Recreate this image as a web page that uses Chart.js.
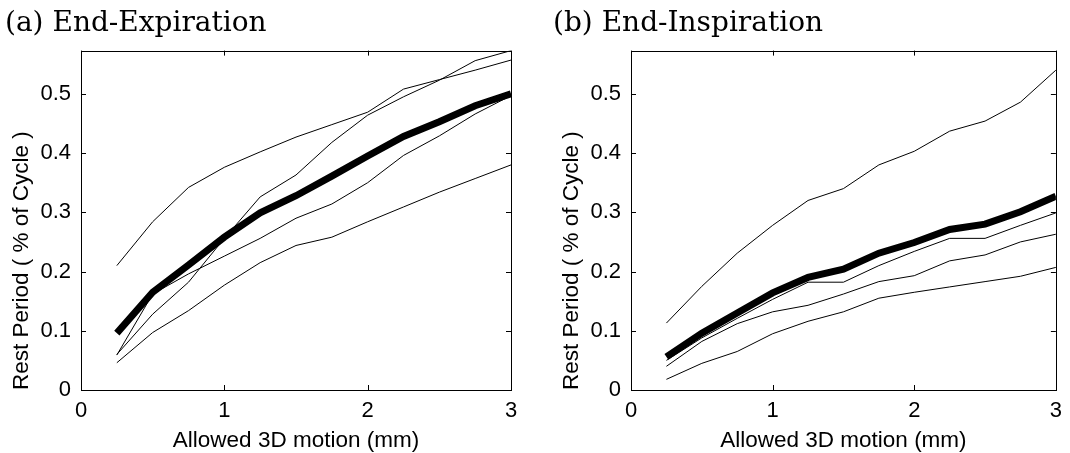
<!DOCTYPE html>
<html>
<head>
<meta charset="utf-8">
<script src="https://cdn.jsdelivr.net/npm/chart.js@4.4.0/dist/chart.umd.min.js"></script>
<style>
  html, body { margin: 0; padding: 0; background: #fff; }
  body { width: 1070px; height: 453px; position: relative; overflow: hidden; }
  #expChart { position: absolute; left: 0; top: 0; }
  #inspChart { position: absolute; left: 540px; top: 0; }
</style>
</head>
<body>
<canvas id="expChart" width="540" height="453"></canvas>
<canvas id="inspChart" width="530" height="453"></canvas>
<script>
// allowed 3D motion (mm)
const motion = [0.25, 0.5, 0.75, 1.0, 1.25, 1.5, 1.75, 2.0, 2.25, 2.5, 2.75, 3.0];
const xTicks = [0, 1, 2, 3];
const yTicks = [0, 0.1, 0.2, 0.3, 0.4, 0.5];
const yMax = 0.573;

// end-expiration: four subjects + mean
const expSubjects = [
  [0.059, 0.162, 0.196, 0.226, 0.256, 0.290, 0.314, 0.350, 0.396, 0.429, 0.466, 0.497],
  [0.060, 0.128, 0.182, 0.256, 0.326, 0.363, 0.418, 0.464, 0.495, 0.523, 0.556, 0.573],
  [0.046, 0.097, 0.134, 0.177, 0.215, 0.244, 0.258, 0.284, 0.309, 0.334, 0.357, 0.380],
  [0.210, 0.284, 0.342, 0.376, 0.402, 0.427, 0.448, 0.469, 0.508, 0.524, 0.540, 0.557]
];
const expMean = [0.096, 0.165, 0.211, 0.258, 0.299, 0.328, 0.361, 0.395, 0.428, 0.453, 0.480, 0.500];

// end-inspiration: four subjects + mean
const inspSubjects = [
  [0.113, 0.175, 0.231, 0.278, 0.320, 0.340, 0.380, 0.403, 0.437, 0.454, 0.486, 0.540],
  [0.050, 0.088, 0.121, 0.153, 0.182, 0.182, 0.210, 0.234, 0.256, 0.256, 0.278, 0.299],
  [0.040, 0.082, 0.112, 0.132, 0.143, 0.162, 0.183, 0.193, 0.218, 0.228, 0.250, 0.263],
  [0.018, 0.045, 0.065, 0.095, 0.116, 0.132, 0.155, 0.165, 0.174, 0.183, 0.192, 0.207]
];
const inspMean = [0.056, 0.096, 0.130, 0.164, 0.190, 0.204, 0.231, 0.249, 0.271, 0.280, 0.301, 0.327];

Chart.defaults.color = "#000";
Chart.defaults.font.family = "'Liberation Sans', Arial, sans-serif";

// matlab style box with inward ticks on all four sides
const boxTicks = {
  id: "boxTicks",
  afterDraw(chart) {
    const ctx = chart.ctx;
    const a = chart.chartArea;
    const xs = chart.scales.x;
    const ys = chart.scales.y;
    const len = 5;
    ctx.save();
    ctx.strokeStyle = "#000";
    ctx.lineWidth = 1;
    ctx.strokeRect(Math.round(a.left) + 0.5, Math.round(a.top) + 0.5,
      Math.round(a.right - a.left), Math.round(a.bottom - a.top));
    ctx.beginPath();
    xs.ticks.forEach((t) => {
      const px = Math.round(xs.getPixelForValue(t.value)) + 0.5;
      ctx.moveTo(px, a.bottom); ctx.lineTo(px, a.bottom - len);
      ctx.moveTo(px, a.top); ctx.lineTo(px, a.top + len);
    });
    ys.ticks.forEach((t) => {
      const py = Math.round(ys.getPixelForValue(t.value)) + 0.5;
      ctx.moveTo(a.left, py); ctx.lineTo(a.left + len, py);
      ctx.moveTo(a.right, py); ctx.lineTo(a.right - len, py);
    });
    ctx.stroke();
    ctx.restore();
  }
};

function makeSets(subjects, mean) {
  const sets = subjects.map((s) => ({
    data: motion.map((m, i) => ({ x: m, y: s[i] })),
    borderColor: "#000",
    borderWidth: 1
  }));
  sets.push({
    data: motion.map((m, i) => ({ x: m, y: mean[i] })),
    borderColor: "#000",
    borderWidth: 7
  });
  return sets;
}

function makeChart(id, title, subjects, mean, pad, yWidth, yTitlePad) {
  return new Chart(document.getElementById(id), {
    type: "line",
    data: { datasets: makeSets(subjects, mean) },
    options: {
      responsive: false,
      animation: false,
      devicePixelRatio: 1,
      events: [],
      layout: { padding: pad },
      elements: {
        point: { radius: 0 },
        line: { tension: 0, borderCapStyle: "butt", borderJoinStyle: "miter", fill: false }
      },
      plugins: {
        legend: { display: false },
        tooltip: { enabled: false },
        title: {
          display: true,
          text: title,
          align: "start",
          color: "#000",
          font: { family: "'DejaVu Serif', serif", size: 28, weight: "normal", lineHeight: 1.2 },
          padding: { top: 7, bottom: 10 }
        }
      },
      scales: {
        x: {
          type: "linear",
          min: 0,
          max: 3,
          afterBuildTicks: (s) => { s.ticks = xTicks.map((v) => ({ value: v })); },
          afterFit: (s) => { s.height = 63; },
          grid: { display: false, drawTicks: false },
          border: { display: false },
          ticks: { padding: 8, font: { size: 22 }, maxRotation: 0 },
          title: {
            display: true,
            text: "Allowed 3D motion (mm)",
            font: { size: 22.5, lineHeight: 1 },
            padding: { top: 0, bottom: 1 }
          }
        },
        y: {
          min: 0,
          max: yMax,
          afterBuildTicks: (s) => { s.ticks = yTicks.map((v) => ({ value: v })); },
          afterFit: (s) => { s.width = yWidth; },
          grid: { display: false, drawTicks: false },
          border: { display: false },
          ticks: { padding: 10, font: { size: 22 } },
          title: {
            display: true,
            text: "Rest Period ( % of Cycle )",
            align: "start",
            font: { size: 22.5, lineHeight: 1 },
            padding: { top: yTitlePad, bottom: 0 }
          }
        }
      }
    },
    plugins: [boxTicks]
  });
}

makeChart("expChart", "(a) End-Expiration", expSubjects, expMean,
  { left: 5, right: 29, top: 0, bottom: 0 }, 76, 6);
makeChart("inspChart", "(b) End-Inspiration", inspSubjects, inspMean,
  { left: 13, right: 9, top: 0, bottom: 0 }, 78, 8);
</script>
</body>
</html>
